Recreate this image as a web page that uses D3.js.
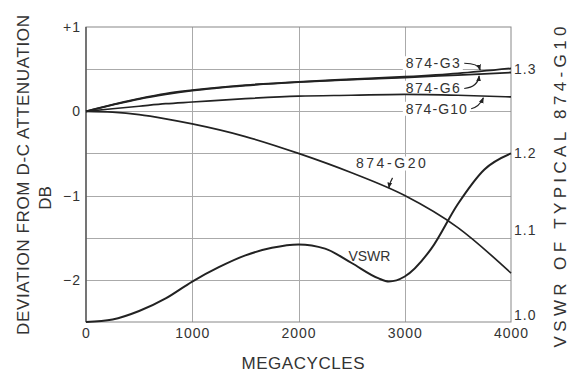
<!DOCTYPE html>
<html>
<head>
<meta charset="utf-8">
<script src="https://cdn.jsdelivr.net/npm/d3@7"></script>
<style>
  html, body { margin: 0; padding: 0; background: #fff; }
  svg { display: block; }
  text { font-family: "Liberation Sans", Arial, sans-serif; fill: #333; }
</style>
</head>
<body>
<svg id="chart" width="570" height="373"></svg>
<script>
// ---- data ----
const freqs = [0, 250, 500, 750, 1000, 1500, 2000, 2500, 3000, 3500, 4000];
const g3  = [0, 0.08, 0.15, 0.21, 0.25, 0.31, 0.35, 0.38, 0.41, 0.45, 0.51];
const g6  = [0, 0.075, 0.145, 0.20, 0.245, 0.305, 0.345, 0.375, 0.40, 0.43, 0.46];
const g10 = [0, 0.03, 0.06, 0.09, 0.11, 0.15, 0.18, 0.19, 0.20, 0.19, 0.17];
const g20 = [0, -0.01, -0.04, -0.09, -0.15, -0.30, -0.50, -0.73, -1.00, -1.38, -1.92];
const vswrFreqs = [0, 250, 500, 750, 1000, 1250, 1500, 1750, 2000, 2250, 2500, 2750, 2850, 3000, 3250, 3500, 3750, 4000];
const vswr = [1.0, 1.003, 1.013, 1.028, 1.048, 1.065, 1.079, 1.088, 1.092, 1.087, 1.07, 1.052, 1.048, 1.054, 1.087, 1.14, 1.181, 1.2];
const xTicks = [0, 1000, 2000, 3000, 4000];
const yTicks = [1, 0, -1, -2];
const yTickLabels = ["+1", "0", "\u22121", "\u22122"];
const vswrTicks = [1.0, 1.1, 1.2, 1.3];
const yGrid = [0.5, 0, -0.5, -1, -1.5, -2];
const xGrid = [1000, 2000, 3000];

// ---- layout ----
const svg = d3.select("#chart");
const x = d3.scaleLinear().domain([0, 4000]).range([86, 511]);
const y = d3.scaleLinear().domain([-2.5, 1]).range([322, 27]);
const yR = d3.scaleLinear().domain([1.0, 1.3]).range([y(-2.5), y(0.5)]);

// grid
const grid = svg.append("g").attr("stroke", "#aaa").attr("stroke-width", 1);
grid.selectAll("line.h").data(yGrid).join("line")
  .attr("x1", x(0)).attr("x2", x(4000))
  .attr("y1", d => Math.round(y(d)) + 0.5).attr("y2", d => Math.round(y(d)) + 0.5);
grid.selectAll("line.v").data(xGrid).join("line")
  .attr("y1", y(1)).attr("y2", y(-2.5))
  .attr("x1", d => Math.round(x(d)) + 0.5).attr("x2", d => Math.round(x(d)) + 0.5);

// frame
svg.append("rect")
  .attr("x", x(0)).attr("y", y(1))
  .attr("width", x(4000) - x(0)).attr("height", y(-2.5) - y(1))
  .attr("fill", "none").attr("stroke", "#888").attr("stroke-width", 1);
svg.append("line").attr("x1", x(0)).attr("x2", x(0)).attr("y1", y(1)).attr("y2", y(-2.5))
  .attr("stroke", "#555").attr("stroke-width", 1.4);

// label backgrounds (hide grid only; drawn before curves)
const labels = [
  { t: "874-G3",  mx: 3010, db: 0.57, len: 54 },
  { t: "874-G6",  mx: 3010, db: 0.28, len: 54 },
  { t: "874-G10", mx: 3010, db: 0.03, len: 61 },
  { t: "874-G20", mx: 2540, db: -0.62, len: 70 },
];
const bg = svg.append("g");
labels.forEach(l => {
  bg.append("rect").attr("x", x(l.mx) - 3).attr("y", y(l.db) - 7)
    .attr("width", l.len + 6).attr("height", 14).attr("fill", "#fff");
});

// axes
const axL = d3.axisLeft(y).tickValues(yTicks).tickSize(0).tickPadding(5)
  .tickFormat((d, i) => yTickLabels[i]);
const gL = svg.append("g").attr("transform", `translate(${x(0)},0)`).call(axL);
const axB = d3.axisBottom(x).tickValues(xTicks).tickSize(0).tickPadding(6)
  .tickFormat(d3.format("d"));
const gB = svg.append("g").attr("transform", `translate(0,${y(-2.5)})`).call(axB);
const axR = d3.axisRight(yR).tickValues(vswrTicks).tickSize(0).tickPadding(3)
  .tickFormat(d3.format(".1f"));
const gR = svg.append("g").attr("transform", `translate(${x(4000)},0)`).call(axR);
[gL, gB, gR].forEach(g => {
  g.select(".domain").remove();
  g.selectAll("text").attr("font-size", 14).attr("fill", "#333")
    .attr("font-family", "Liberation Sans, Arial, sans-serif").style("letter-spacing", "1px");
});
gR.selectAll(".tick text").attr("dy", d => d === 1.0 ? "-0.15em" : (d === 1.1 ? "-0.2em" : "0.32em"));

// curves
const line = d3.line().curve(d3.curveMonotoneX);
const dbSeries = [g3, g6, g10, g20];
const lines = svg.append("g").attr("fill", "none").attr("stroke", "#222");
dbSeries.forEach((s, k) => {
  lines.append("path")
    .attr("stroke-width", k < 2 ? 1.8 : 1.7)
    .attr("d", line(freqs.map((f, i) => [x(f), y(s[i])])));
});
lines.append("path").attr("stroke-width", 2)
  .attr("d", line(vswrFreqs.map((f, i) => [x(f), yR(vswr[i])])));

// series labels and leader arrows
svg.append("defs").append("marker").attr("id", "ah")
  .attr("viewBox", "0 0 10 10").attr("refX", 9).attr("refY", 5)
  .attr("markerWidth", 5).attr("markerHeight", 5).attr("orient", "auto")
  .append("path").attr("d", "M0,1 L10,5 L0,9 Z").attr("fill", "#222");

const lab = svg.append("g");
labels.forEach(l => {
  lab.append("text").attr("x", x(l.mx)).attr("y", y(l.db)).attr("dy", "0.35em")
    .attr("font-size", 14).attr("textLength", l.len).attr("lengthAdjust", "spacing")
    .text(l.t);
});
const leaders = [
  { from: [3560, 0.57], c: [3690, 0.57], to: [3710, 0.49] },
  { from: [3560, 0.27], c: [3690, 0.29], to: [3700, 0.42] },
  { from: [3625, 0.03], c: [3700, 0.05], to: [3740, 0.16] },
  { from: [2885, -0.79], c: [2860, -0.84], to: [2850, -0.91] },
];
leaders.forEach(a => {
  svg.append("path").attr("fill", "none").attr("stroke", "#222").attr("stroke-width", 1.2)
    .attr("marker-end", "url(#ah)")
    .attr("d", `M${x(a.from[0])},${y(a.from[1])} Q${x(a.c[0])},${y(a.c[1])} ${x(a.to[0])},${y(a.to[1])}`);
});

svg.append("text").attr("x", x(2470)).attr("y", yR(1.078)).attr("dy", "0.35em")
  .attr("font-size", 14).attr("textLength", 42).attr("lengthAdjust", "spacing").text("VSWR");

// axis titles
svg.append("text").attr("transform", "translate(29,175) rotate(-90)")
  .attr("text-anchor", "middle").attr("font-size", 17).attr("fill", "#555")
  .attr("textLength", 320).attr("lengthAdjust", "spacing")
  .text("DEVIATION FROM D-C ATTENUATION");
svg.append("text").attr("transform", "translate(51,198) rotate(-90)")
  .attr("text-anchor", "middle").attr("font-size", 17).attr("fill", "#555")
  .text("DB");
svg.append("text").attr("transform", "translate(566,187) rotate(-90)")
  .attr("text-anchor", "middle").attr("font-size", 17).attr("fill", "#555")
  .attr("textLength", 321).attr("lengthAdjust", "spacing")
  .text("VSWR OF TYPICAL 874-G10");
svg.append("text").attr("x", 303).attr("y", 369)
  .attr("text-anchor", "middle").attr("font-size", 17).attr("fill", "#555")
  .attr("textLength", 123).attr("lengthAdjust", "spacing")
  .text("MEGACYCLES");
</script>
</body>
</html>
